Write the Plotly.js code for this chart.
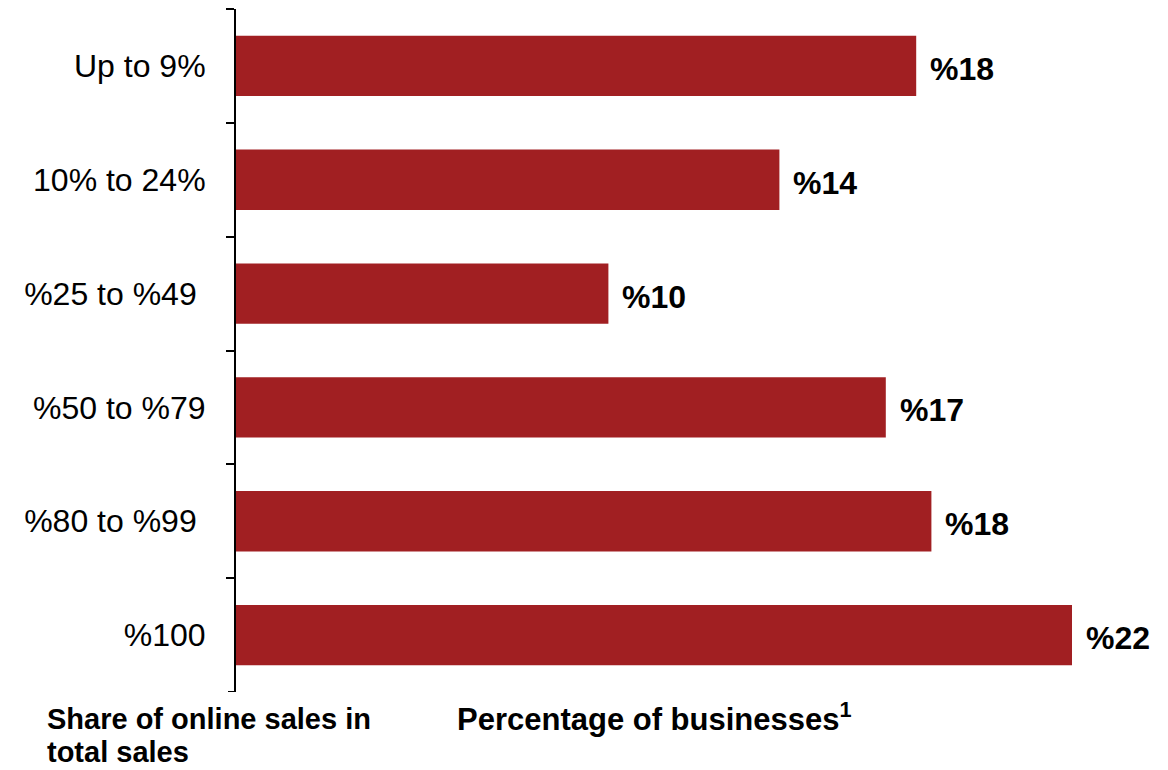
<!DOCTYPE html>
<html>
<head>
<meta charset="utf-8">
<script src="https://cdn.plot.ly/plotly-3.0.1.min.js"></script>
<style>html,body{margin:0;padding:0;background:#fff;}#chart{width:1168px;height:770px;}</style>
</head>
<body>
<div id="chart"></div>
<script>
const categories = ["Up to 9%", "10% to 24%", "%25 to %49\u00a0", "%50 to %79", "%80 to %99\u00a0", "%100"];
const values = [17.9, 14.3, 9.8, 17.1, 18.3, 22.0];
const valueLabels = ["%18", "%14", "%10", "%17", "%18", "%22"];
const yTitleLines = ["Share of online sales in", "total sales"];
const xTitle = "Percentage of businesses<sup style='font-size:70%'>1</sup>";

const font = "Liberation Sans, Arial, sans-serif";
const barColor = "#A11F22";

const trace = {
  type: "bar",
  orientation: "h",
  y: categories,
  x: values,
  marker: {color: barColor},
  width: 0.53,
  hoverinfo: "skip"
};

const annotations = values.map((v, i) => ({
  x: v, y: categories[i], xref: "x", yref: "y",
  text: "<b>" + valueLabels[i] + "</b>",
  showarrow: false, xanchor: "left", yanchor: "middle", xshift: 12, yshift: -3,
  font: {family: font, size: 32, color: "#000"}
}));

annotations.push({
  xref: "paper", yref: "paper", x: 0.2506, y: -0.0366, xanchor: "left", yanchor: "middle",
  text: "<b>" + xTitle + "</b>", showarrow: false,
  font: {family: font, size: 31, color: "#000"}
});
const titleYs = [-0.0395, -0.0878];
yTitleLines.forEach((line, i) => {
  annotations.push({
    xref: "paper", yref: "paper", x: -0.2185, y: titleYs[i], xanchor: "left", yanchor: "middle",
    align: "left",
    text: "<b>" + line + "</b>", showarrow: false,
    font: {family: font, size: 29, color: "#000"}
  });
});

const endTick = (yv) => ({
  type: "line", xref: "paper", yref: "y",
  x0: -0.00915, x1: 0, y0: yv, y1: yv,
  line: {color: "#000", width: 2}
});

const layout = {
  width: 1168, height: 770,
  margin: {l: 236, r: 58, t: 9, b: 78},
  paper_bgcolor: "#fff", plot_bgcolor: "#fff",
  showlegend: false,
  bargap: 0.47,
  xaxis: {range: [0, 23], visible: false, showgrid: false, zeroline: false, fixedrange: true},
  yaxis: {
    type: "category",
    range: [5.5, -0.5],
    showline: true, linecolor: "#000", linewidth: 2,
    ticks: "outside", ticklen: 8, tickwidth: 2, tickcolor: "#000",
    tickson: "boundaries",
    ticklabelstandoff: 22,
    showgrid: false, zeroline: false,
    tickfont: {family: font, size: 32, color: "#000"},
    fixedrange: true
  },
  shapes: [endTick(-0.5), endTick(categories.length - 0.5)],
  annotations: annotations
};

Plotly.newPlot("chart", [trace], layout, {displayModeBar: false, staticPlot: true});
</script>
</body>
</html>
